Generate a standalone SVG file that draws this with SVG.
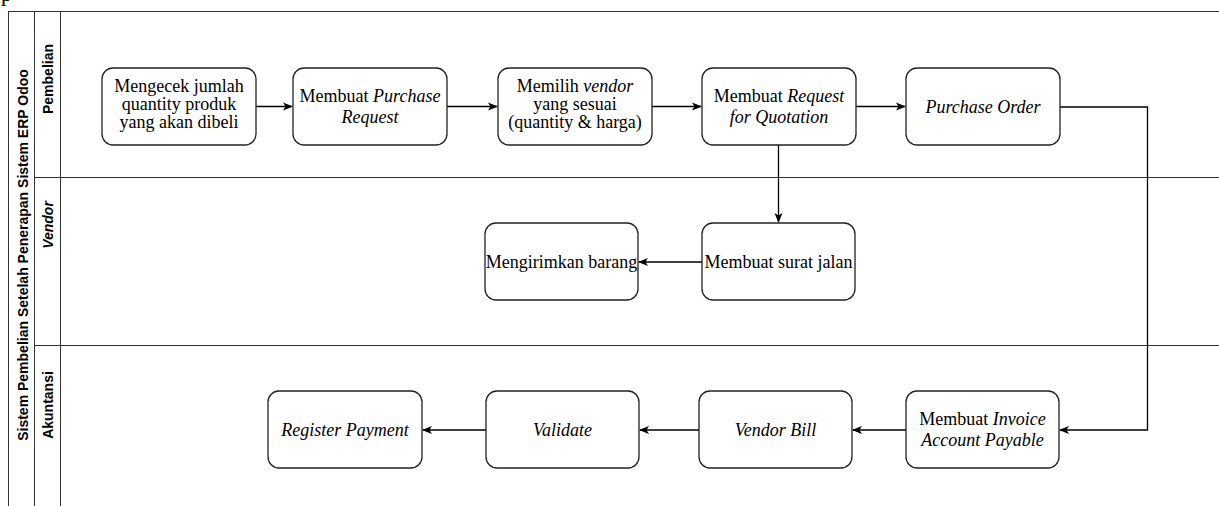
<svg xmlns="http://www.w3.org/2000/svg" width="1219" height="506" viewBox="0 0 1219 506">
<style>
.node rect{fill:#fff;stroke:#222;stroke-width:1.3}
.t{font-family:"Liberation Serif","Times New Roman",serif;font-size:18px;text-anchor:middle;fill:#000}
.i{font-style:italic}
.lane{font-family:"Liberation Sans",Arial,sans-serif;font-weight:bold;font-size:14px;text-anchor:middle;fill:#000}
.conn path{fill:none;stroke:#000;stroke-width:1.3}
.pool{stroke:#333;stroke-width:1;fill:none}
</style>
<defs>
<marker id="arr" viewBox="0 0 10 10" refX="9" refY="5" markerWidth="10" markerHeight="10" markerUnits="userSpaceOnUse" orient="auto">
<path d="M0,1 L10,5 L0,9 L2.5,5 Z" fill="#000"/>
</marker>
</defs>
<rect width="1219" height="506" fill="#fff"/>
<text x="1" y="1" font-family="Liberation Serif, serif" font-size="22" fill="#000">p</text>
<g id="pool">
<path class="pool" d="M8.5,11.5 H1219" stroke="#666"/>
<path class="pool" d="M8.5,11 V506" stroke-width="2" stroke="#111"/>
<path class="pool" d="M34.5,11 V506"/>
<path class="pool" d="M60.5,11 V506"/>
<path class="pool" d="M35,177.5 H1219"/>
<path class="pool" d="M35,345.5 H1219"/>
<text class="lane" font-size="16" transform="translate(27.5,255) rotate(-90)">Sistem Pembelian Setelah Penerapan Sistem ERP Odoo</text>
<text class="lane" transform="translate(52.5,79) rotate(-90)">Pembelian</text>
<text class="lane" font-style="italic" transform="translate(52.5,225) rotate(-90)">Vendor</text>
<text class="lane" transform="translate(52.5,405) rotate(-90)">Akuntansi</text>
</g>
<g class="conn" id="connectors">
<path d="M256,106.5 H292" marker-end="url(#arr)"/>
<path d="M447,106.5 H497" marker-end="url(#arr)"/>
<path d="M652,106.5 H701" marker-end="url(#arr)"/>
<path d="M856,106.5 H905" marker-end="url(#arr)"/>
<path d="M1060,107 H1147.5 V430 H1060" marker-end="url(#arr)"/>
<path d="M778.5,145 V222" marker-end="url(#arr)"/>
<path d="M702,262 H639" marker-end="url(#arr)"/>
<path d="M906,430 H853" marker-end="url(#arr)"/>
<path d="M699,430 H640" marker-end="url(#arr)"/>
<path d="M486,430 H423" marker-end="url(#arr)"/>
</g>
<g class="node" id="n1"><rect x="102" y="68" width="154" height="77" rx="11"/>
<text class="t" x="179" y="92">Mengecek jumlah</text><text class="t" x="179" y="110">quantity produk</text><text class="t" x="179" y="128">yang akan dibeli</text></g>
<g class="node" id="n2"><rect x="293" y="68" width="154" height="77" rx="11"/>
<text class="t" x="370" y="102">Membuat <tspan class="i">Purchase</tspan></text><text class="t i" x="370" y="123">Request</text></g>
<g class="node" id="n3"><rect x="498" y="68" width="154" height="77" rx="11"/>
<text class="t" x="575" y="92">Memilih <tspan class="i">vendor</tspan></text><text class="t" x="575" y="110">yang sesuai</text><text class="t" x="575" y="128">(quantity &amp; harga)</text></g>
<g class="node" id="n4"><rect x="702" y="68" width="154" height="77" rx="11"/>
<text class="t" x="779" y="102">Membuat <tspan class="i">Request</tspan></text><text class="t i" x="779" y="123">for Quotation</text></g>
<g class="node" id="n5"><rect x="906" y="68" width="154" height="77" rx="11"/>
<text class="t i" x="983" y="113">Purchase Order</text></g>
<g class="node" id="v1"><rect x="485" y="223" width="153" height="77" rx="11"/>
<text class="t" x="561.5" y="268">Mengirimkan barang</text></g>
<g class="node" id="v2"><rect x="702" y="223" width="153" height="77" rx="11"/>
<text class="t" x="778.5" y="268">Membuat surat jalan</text></g>
<g class="node" id="a1"><rect x="268" y="391" width="154" height="77" rx="11"/>
<text class="t i" x="345" y="436">Register Payment</text></g>
<g class="node" id="a2"><rect x="486" y="391" width="153" height="77" rx="11"/>
<text class="t i" x="562.5" y="436">Validate</text></g>
<g class="node" id="a3"><rect x="699" y="391" width="153" height="77" rx="11"/>
<text class="t i" x="775.5" y="436">Vendor Bill</text></g>
<g class="node" id="a4"><rect x="906" y="391" width="153" height="77" rx="11"/>
<text class="t" x="982.5" y="425">Membuat <tspan class="i">Invoice</tspan></text><text class="t i" x="982.5" y="446">Account Payable</text></g>
</svg>
